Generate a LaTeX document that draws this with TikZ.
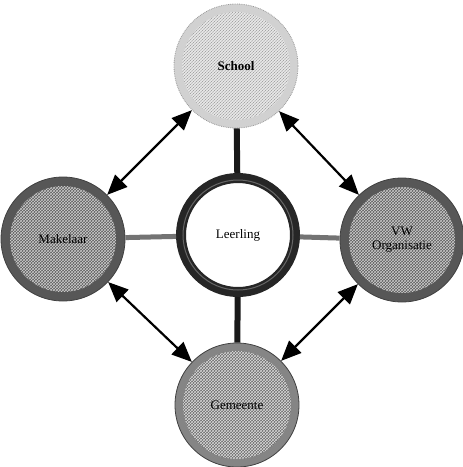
\documentclass[tikz,border=0pt]{standalone}
\usepackage{fontspec}
\setmainfont{Liberation Serif}
\usetikzlibrary{patterns,arrows.meta}
\begin{document}
\begin{tikzpicture}[x=1pt,y=-1pt,
  outer/.style={circle, minimum size=124pt, inner sep=0pt, draw=black!75, line width=0.8pt, font=\fontsize{13}{14}\selectfont, align=center},
  darkouter/.style={outer, fill=black!66,
    path picture={\fill[black!64] (path picture bounding box.center) circle[radius=53pt];
      \fill[pattern=crosshatch, pattern color=white!80!black] (path picture bounding box.center) circle[radius=53pt];}},
  midouter/.style={outer, fill=black!48,
    path picture={\fill[black!58] (path picture bounding box.center) circle[radius=54pt];
      \fill[pattern=crosshatch, pattern color=white!85!black] (path picture bounding box.center) circle[radius=54pt];}},
  lightouter/.style={outer, draw=black!40, densely dotted, fill=black!18,
    path picture={\fill[black!10] (path picture bounding box.center) circle[radius=54pt];
      \fill[pattern=north east lines, pattern color=black!45] (path picture bounding box.center) circle[radius=54pt];}},
  dbl/.style={line width=2.2pt},
  spoke/.style={line width=6pt, black!90},
  grayspoke/.style={line width=5pt, black!55}
]
\useasboundingbox (0,0) rectangle (463,467);
\node[lightouter] (school) at (236,66) {\textbf{School}};
\node[darkouter] (mak) at (63,239) {Makelaar};
\node[darkouter] (vw) at (402,240) {VW\\Organisatie};
\node[midouter] (gem) at (237,405) {Gemeente};
\node[circle, minimum size=114pt, inner sep=0pt, draw=black!85, line width=10pt, fill=white, font=\fontsize{13}{14}\selectfont] (leer) at (238,235) {Leerling};
\draw[black!60, line width=1pt] (leer.center) circle[radius=55pt];
\draw[spoke] (school) -- (leer);
\draw[spoke] (gem) -- (leer);
\draw[grayspoke] (mak) -- (leer);
\draw[grayspoke] (vw) -- (leer);
\draw[dbl, {Triangle[length=20pt, width=17pt]}-{Triangle[length=20pt, width=17pt]}] (school) -- (mak);
\draw[dbl, {Triangle[length=20pt, width=17pt]}-{Triangle[length=20pt, width=17pt]}] (school) -- (vw);
\draw[dbl, {Triangle[length=20pt, width=17pt]}-{Triangle[length=20pt, width=17pt]}] (mak) -- (gem);
\draw[dbl, {Triangle[length=20pt, width=17pt]}-{Triangle[length=20pt, width=17pt]}] (vw) -- (gem);
\end{tikzpicture}
\end{document}
